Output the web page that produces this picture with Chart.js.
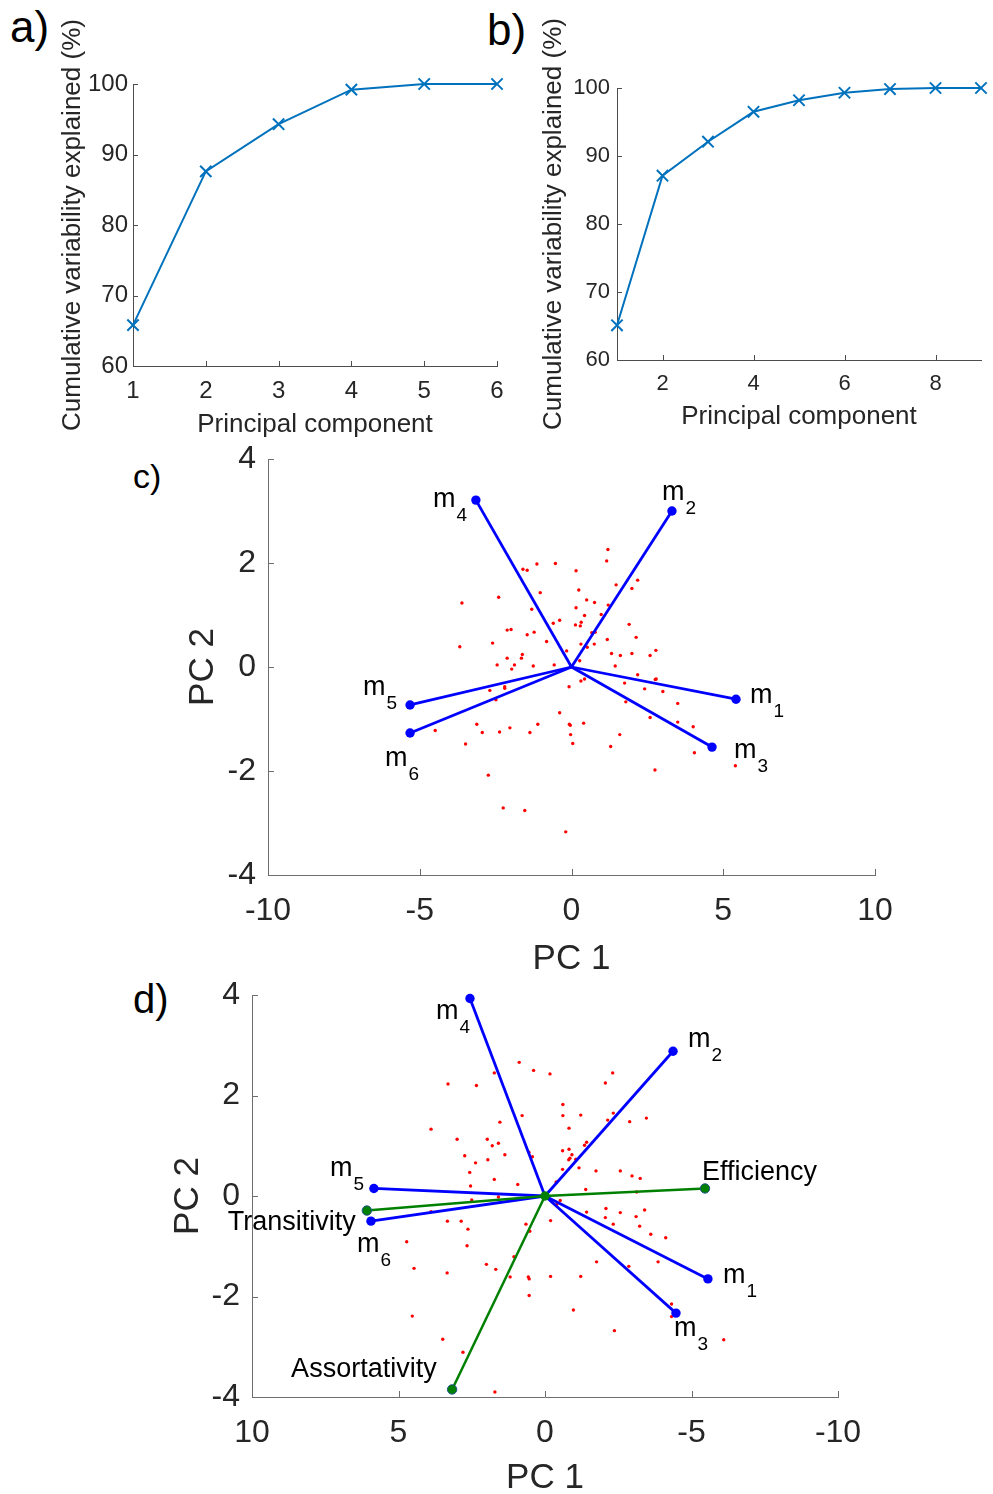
<!DOCTYPE html>
<html lang="en">
<head>
    <meta charset="UTF-8">
    <title>PCA</title>
    <style>
        html, body { margin: 0; padding: 0; background: #fff; overflow: hidden; }
        body { position: relative; width: 993px; height: 1494px; font-family: "Liberation Sans", Arial, sans-serif; }
        canvas { position: absolute; }
        .panel { position: absolute; color: #000; line-height: 1; white-space: nowrap; }
    </style>
</head>
<body>
    <div class="panel" style="left:10px; top:5px; font-size:44px;">a)</div>
    <div class="panel" style="left:487px; top:8px; font-size:44px;">b)</div>
    <div class="panel" style="left:133px; top:459px; font-size:34px;">c)</div>
    <div class="panel" style="left:133px; top:979px; font-size:40px;">d)</div>

    <canvas id="chartA" width="520" height="445" style="left:0px; top:0px;"></canvas>
    <canvas id="chartB" width="498" height="440" style="left:495px; top:0px;"></canvas>
    <canvas id="chartC" width="800" height="570" style="left:110px; top:420px;"></canvas>
    <canvas id="chartD" width="800" height="550" style="left:110px; top:955px;"></canvas>

    <script src="https://cdn.jsdelivr.net/npm/chart.js"></script>

    <script>
        // a) cumulative variance, 6 components
        const componentsA = [1, 2, 3, 4, 5, 6];
        const cumulativeA = [65.8, 87.6, 94.3, 99.2, 100, 100];

        // b) cumulative variance, 9 components
        const componentsB = [1, 2, 3, 4, 5, 6, 7, 8, 9];
        const cumulativeB = [65.1, 87.1, 92.1, 96.5, 98.2, 99.3, 99.85, 100, 100];
        const xTicksB = [2, 4, 6, 8];

        // c) biplot
        const loadingNamesC = ['m1', 'm2', 'm3', 'm4', 'm5', 'm6'];
        const loadingPC1C = [5.42, 3.31, 4.63, -3.15, -5.32, -5.32];
        const loadingPC2C = [-0.62, 3.00, -1.54, 3.21, -0.73, -1.27];
        const scorePC1C = [1.20, 1.16, -1.60, -1.46, -1.14, -0.53, 0.15, 1.47, 2.18, 1.99,
            0.24, -1.03, -2.40, -3.61, 0.50, 0.76, 1.21, 0.15, -1.31, 0.43,
            0.98, -0.39, -0.60, 0.32, 0.29, 0.13, 1.90, -2.12, -1.99, -1.23,
            -1.46, 0.67, 0.78, 2.13, 1.18, -0.82, -2.60, -3.68, 0.31, 0.52,
            0.75, 2.78, -0.16, 1.32, 1.61, 1.99, 2.59, -2.12, -1.65, -1.62,
            -2.45, -1.88, -1.97, -1.26, -0.57, 0.27, 1.44, 2.18, 0.31, 0.43,
            -0.08, 1.75, 2.41, 2.76, 2.79, 3.01, -2.69, -2.20, -2.20, -2.49,
            1.79, 3.50, -0.39, 2.59, 3.50, 4.01, -3.12, -2.94, -4.49, -2.37,
            -2.03, -1.37, -1.11, -0.07, -0.04, 0.40, -0.03, 0.04, -3.49, 1.59,
            1.29, 4.05, -2.74, 2.75, -2.25, -1.54, -0.19, 5.40];
        const scorePC2C = [2.26, 2.04, 1.88, 1.86, 1.98, 1.99, 1.85, 1.58, 1.67, 1.51,
            1.48, 1.43, 1.34, 1.23, 1.29, 1.24, 1.19, 1.14, 1.11, 0.99,
            1.01, 0.90, 0.84, 0.86, 0.79, 0.81, 0.82, 0.71, 0.72, 0.67,
            0.62, 0.66, 0.67, 0.57, 0.53, 0.49, 0.46, 0.39, 0.44, 0.38,
            0.44, 0.32, 0.31, 0.26, 0.22, 0.26, 0.22, 0.17, 0.17, 0.24,
            0.04, 0.04, -0.04, 0.02, 0.04, 0.12, 0.02, -0.15, -0.27, -0.23,
            -0.38, -0.31, -0.42, -0.24, -0.23, -0.47, -0.45, -0.38, -0.41, -0.63,
            -0.67, -0.70, -0.88, -0.97, -1.06, -1.15, -1.10, -1.26, -1.22, -1.25,
            -1.17, -1.26, -1.10, -1.10, -1.12, -1.08, -1.30, -1.47, -1.48, -1.30,
            -1.53, -1.65, -2.08, -1.98, -2.71, -2.76, -3.17, -1.90];

        // d) biplot with network metrics (PC 1 axis reversed)
        const loadingNamesD = ['m1', 'm2', 'm3', 'm4', 'm5', 'm6'];
        const loadingPC1D = [-5.56, -4.37, -4.47, 2.56, 5.84, 5.94];
        const loadingPC2D = [-1.65, 2.88, -2.33, 3.93, 0.15, -0.50];
        const metricNamesD = ['Efficiency', 'Transitivity', 'Assortativity'];
        const metricPC1D = [-5.46, 6.08, 3.17];
        const metricPC2D = [0.15, -0.29, -3.85];
        const scorePC1D = [0.88, 0.39, -0.17, 1.73, 3.31, 2.34, 0.78, 1.54, 3.89, 3.00,
            1.97, 1.59, 1.80, 1.37, 2.74, 0.55, 0.43, 1.95, 2.37, 2.57,
            1.73, 0.93, 2.54, 1.59, 2.50, -0.61, -0.61, -1.22, -0.82, -2.06,
            -2.31, -2.33, -2.14, -2.89, -3.46, -1.35, -1.42, -0.60, -0.82, -0.92,
            -0.81, -0.85, -1.05, -0.60, -1.16, -1.74, -2.57, -2.97, -3.25, -1.39,
            -3.13, -0.38, -0.52, -0.40, 3.89, 3.33, 2.86, 2.63, 0.65, 0.52,
            -0.19, -1.42, -2.08, -2.57, -3.11, -3.40, -2.06, -2.33, -3.23, -3.61,
            -4.12, 4.72, 2.66, 1.06, 4.47, 3.34, 2.00, 1.68, 1.19, 0.57,
            0.54, -0.19, -1.22, -1.76, -2.86, -3.86, 0.54, -0.97, 4.53, -4.32,
            -4.32, -2.37, -6.10, 3.49, 2.80, 1.71];
        const scorePC2D = [2.66, 2.50, 2.43, 2.45, 2.23, 2.20, 1.60, 1.47, 1.33, 1.13,
            1.13, 1.05, 1.00, 0.82, 0.80, 0.87, 0.78, 0.72, 0.66, 0.47,
            0.33, 0.23, 0.20, -0.02, -0.08, 1.82, 1.60, 1.61, 1.35, 2.25,
            2.45, 1.65, 1.51, 1.48, 1.55, 1.01, 1.07, 0.90, 0.93, 0.82,
            0.72, 0.75, 0.73, 0.53, 0.56, 0.50, 0.50, 0.40, 0.35, 0.13,
            0.08, 0.28, -0.09, -0.17, -0.31, -0.50, -0.50, -0.66, -0.56, -0.70,
            -0.49, -0.32, -0.25, -0.33, -0.41, -0.28, -0.43, -0.56, -0.60, -0.76,
            -0.83, -0.91, -0.99, -1.21, -1.44, -1.53, -1.36, -1.46, -1.61, -1.61,
            -1.65, -1.60, -1.60, -1.31, -1.40, -1.31, -1.98, -2.27, -2.39, -2.15,
            -2.40, -2.68, -2.86, -2.85, -3.11, -3.90];

        // label placement (pixel offsets from each arrow tip)
        const labelOffsetsC = [[14, 4], [-10, -11], [22, 11], [-43, 7], [-47, -10], [-25, 33]];
        const labelOffsetsD = [[15, 4], [15, -4], [-2, 23], [-34, 20], [-44, -12], [-14, 31]];
        const metricOffsetsD = [[-3, -8], [-139, 19], [-161, -12]];

        const FONT = '"Liberation Sans", Arial, sans-serif';
        const TEXT = '#262626';
        const LINE_BLUE = '#0072BD';
        Chart.defaults.font.family = FONT;
        Chart.defaults.color = TEXT;
        Chart.defaults.animation = false;

        // MATLAB style tick marks pointing into the axes
        const inwardTicks = {
            id: 'inwardTicks',
            beforeDatasetsDraw(chart, args, opts) {
                const {ctx, chartArea, scales: {x, y}} = chart;
                ctx.save();
                ctx.strokeStyle = opts.color;
                ctx.lineWidth = 1;
                ctx.beginPath();
                x.ticks.forEach(t => {
                    const px = Math.round(x.getPixelForValue(t.value)) + 0.5;
                    ctx.moveTo(px, chartArea.bottom);
                    ctx.lineTo(px, chartArea.bottom - opts.length);
                });
                y.ticks.forEach(t => {
                    const py = Math.round(y.getPixelForValue(t.value)) + 0.5;
                    ctx.moveTo(chartArea.left, py);
                    ctx.lineTo(chartArea.left + opts.length, py);
                });
                ctx.stroke();
                ctx.restore();
            }
        };

        // names next to arrow tips, digits as subscripts for m1..m6
        const tipLabels = {
            id: 'tipLabels',
            afterDatasetsDraw(chart, args, opts) {
                const {ctx, scales: {x, y}} = chart;
                ctx.save();
                ctx.fillStyle = '#000';
                ctx.textAlign = 'left';
                ctx.textBaseline = 'alphabetic';
                opts.items.forEach(it => {
                    const px = x.getPixelForValue(it.x) + it.dx;
                    const py = y.getPixelForValue(it.y) + it.dy;
                    const sub = /^m\d$/.test(it.name);
                    const main = sub ? it.name[0] : it.name;
                    ctx.font = '27px ' + FONT;
                    ctx.fillText(main, px, py);
                    if (sub) {
                        const w = ctx.measureText(main).width;
                        ctx.font = '19px ' + FONT;
                        ctx.fillText(it.name.slice(1), px + w + 1, py + 14);
                    }
                });
                ctx.restore();
            }
        };

        function axis(o) {
            const s = {
                type: 'linear',
                min: o.min,
                max: o.max,
                reverse: !!o.reverse,
                grid: { display: false, drawTicks: false },
                border: { color: o.axisColor, width: 1 },
                ticks: { stepSize: o.step, font: { size: o.tickSize }, color: TEXT, padding: o.tickPad, maxRotation: 0, autoSkip: false },
                title: { display: true, text: o.title, font: { size: o.titleSize }, color: TEXT, padding: o.titlePad },
                afterFit: o.fit
            };
            if (o.tickValues) {
                s.afterBuildTicks = sc => { sc.ticks = o.tickValues.map(v => ({ value: v })); };
            }
            return s;
        }

        function varianceChart(id, xs, ys, geo) {
            return new Chart(document.getElementById(id), {
                type: 'line',
                data: {
                    datasets: [{
                        data: xs.map((c, i) => ({ x: c, y: ys[i] })),
                        borderColor: LINE_BLUE,
                        borderWidth: 2,
                        pointStyle: 'crossRot',
                        pointRadius: 8,
                        pointBorderWidth: 2,
                        pointBorderColor: LINE_BLUE,
                        pointBackgroundColor: LINE_BLUE,
                        tension: 0,
                        clip: false
                    }]
                },
                options: {
                    responsive: false,
                    maintainAspectRatio: false,
                    devicePixelRatio: 1,
                    layout: { padding: { left: 0, top: geo.top, right: geo.right, bottom: 0 } },
                    plugins: {
                        legend: { display: false },
                        tooltip: { enabled: false },
                        inwardTicks: { color: '#4d4d4d', length: 5 }
                    },
                    scales: {
                        x: axis({
                            min: xs[0], max: xs[xs.length - 1], step: 1, tickValues: geo.xTicks,
                            axisColor: '#4d4d4d', tickSize: geo.tickSize, tickPad: geo.xTickPad,
                            title: 'Principal component', titleSize: 26, titlePad: { top: 0, bottom: geo.xTitlePad },
                            fit: s => { s.height = geo.xAxisHeight; }
                        }),
                        y: axis({
                            min: 60, max: 100, step: 10,
                            axisColor: '#4d4d4d', tickSize: geo.tickSize, tickPad: geo.yTickPad,
                            title: 'Cumulative variability explained (%)', titleSize: 26, titlePad: { top: geo.yTitlePad, bottom: 0 },
                            fit: s => { s.width = geo.yAxisWidth; }
                        })
                    }
                },
                plugins: [inwardTicks]
            });
        }

        varianceChart('chartA', componentsA, cumulativeA, {
            top: 84, right: 23, xAxisHeight: 79, yAxisWidth: 133,
            tickSize: 24, xTickPad: 11, yTickPad: 5, xTitlePad: 5, yTitlePad: 57
        });
        varianceChart('chartB', componentsB, cumulativeB, {
            top: 88, right: 12, xAxisHeight: 80, yAxisWidth: 122, xTicks: xTicksB,
            tickSize: 22, xTickPad: 11, yTickPad: 7, xTitlePad: 8, yTitlePad: 43
        });

        function arrow(px, py, color, width) {
            return {
                data: [{ x: 0, y: 0 }, { x: px, y: py }],
                showLine: true,
                borderColor: color,
                borderWidth: width,
                pointRadius: [0, 4.7],
                pointBackgroundColor: color,
                pointBorderColor: color,
                pointBorderWidth: 0,
                clip: false
            };
        }

        function scoreSet(xs, ys) {
            return {
                data: xs.map((v, i) => ({ x: v, y: ys[i] })),
                pointRadius: 1.7,
                pointBackgroundColor: '#ff0000',
                pointBorderWidth: 0,
                showLine: false
            };
        }

        function biplotOptions(geo, labels) {
            return {
                responsive: false,
                maintainAspectRatio: false,
                devicePixelRatio: 1,
                layout: { padding: { left: 0, top: geo.top, right: geo.right, bottom: 0 } },
                plugins: {
                    legend: { display: false },
                    tooltip: { enabled: false },
                    inwardTicks: { color: '#6e6e6e', length: 6 },
                    tipLabels: { items: labels }
                },
                scales: {
                    x: axis({
                        min: -10, max: 10, step: 5, reverse: geo.reverse,
                        axisColor: '#6e6e6e', tickSize: 32, tickPad: geo.xTickPad,
                        title: 'PC 1', titleSize: 35, titlePad: { top: 0, bottom: geo.xTitlePad },
                        fit: s => { s.height = geo.xAxisHeight; }
                    }),
                    y: axis({
                        min: -4, max: 4, step: 2,
                        axisColor: '#6e6e6e', tickSize: 32, tickPad: 12,
                        title: 'PC 2', titleSize: 35, titlePad: { top: geo.yTitlePad, bottom: 0 },
                        fit: s => { s.width = geo.yAxisWidth; }
                    })
                }
            };
        }

        // panel c
        const arrowsC = loadingNamesC.map((n, i) => arrow(loadingPC1C[i], loadingPC2C[i], '#0000ff', 2.8));
        const labelsC = loadingNamesC.map((n, i) => ({
            name: n, x: loadingPC1C[i], y: loadingPC2C[i], dx: labelOffsetsC[i][0], dy: labelOffsetsC[i][1]
        }));
        new Chart(document.getElementById('chartC'), {
            type: 'scatter',
            data: { datasets: [...arrowsC, scoreSet(scorePC1C, scorePC2C)] },
            options: biplotOptions({
                top: 39, right: 35, xAxisHeight: 115, yAxisWidth: 158,
                xTickPad: 17, xTitlePad: 10, yTitlePad: 72, reverse: false
            }, labelsC),
            plugins: [inwardTicks, tipLabels]
        });

        // panel d
        const metricArrowsD = metricNamesD.map((n, i) => {
            const a = arrow(metricPC1D[i], metricPC2D[i], '#008000', 2.5);
            a.pointBorderColor = '#1f4f8f';
            a.pointBorderWidth = 1;
            return a;
        });
        const arrowsD = loadingNamesD.map((n, i) => arrow(loadingPC1D[i], loadingPC2D[i], '#0000ff', 2.8));
        const originD = {
            data: [{ x: 0, y: 0 }],
            pointRadius: 4.7,
            pointBackgroundColor: '#008000',
            pointBorderWidth: 0
        };
        const labelsD = loadingNamesD.map((n, i) => ({
            name: n, x: loadingPC1D[i], y: loadingPC2D[i], dx: labelOffsetsD[i][0], dy: labelOffsetsD[i][1]
        })).concat(metricNamesD.map((n, i) => ({
            name: n, x: metricPC1D[i], y: metricPC2D[i], dx: metricOffsetsD[i][0], dy: metricOffsetsD[i][1]
        })));
        new Chart(document.getElementById('chartD'), {
            type: 'scatter',
            data: { datasets: [originD, ...metricArrowsD, ...arrowsD, scoreSet(scorePC1D, scorePC2D)] },
            options: biplotOptions({
                top: 40, right: 72, xAxisHeight: 108, yAxisWidth: 142,
                xTickPad: 17, xTitlePad: 6, yTitlePad: 57, reverse: true
            }, labelsD),
            plugins: [inwardTicks, tipLabels]
        });
    </script>
</body>
</html>
